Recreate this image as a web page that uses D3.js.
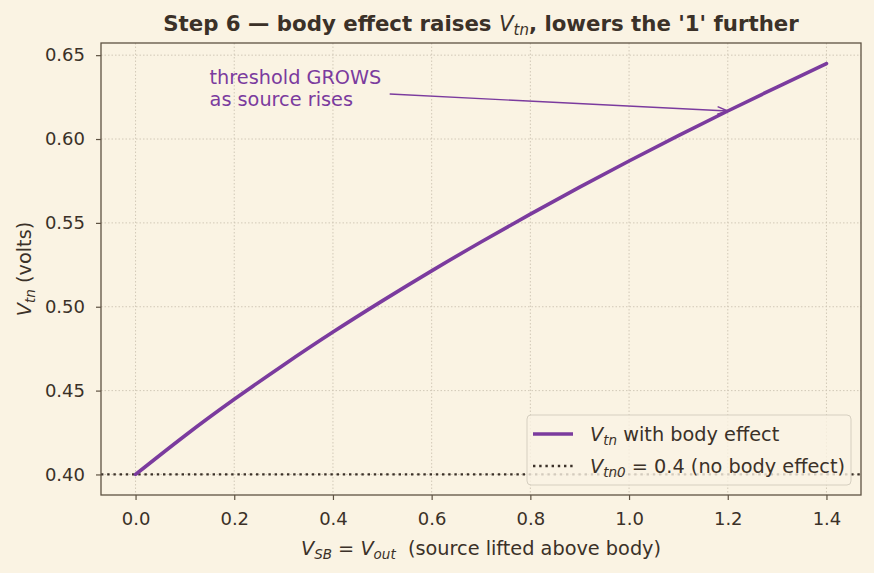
<!DOCTYPE html>
<html>
<head>
<meta charset="utf-8">
<script src="https://cdn.jsdelivr.net/npm/d3@7"></script>
<style>
  html, body { margin: 0; padding: 0; background: #faf3e3; }
  svg { display: block; font-family: "DejaVu Sans", sans-serif; }
</style>
</head>
<body>
<div id="chart"></div>
<script>
// V_SB sweep (volts) and the threshold
const vsb = [0.0, 0.1, 0.2, 0.3, 0.4, 0.5, 0.6, 0.7, 0.8, 0.9, 1.0, 1.1, 1.2, 1.3, 1.4];
const vtn = [0.4000, 0.4231, 0.4448, 0.4653, 0.4849, 0.5035, 0.5214, 0.5386, 0.5552, 0.5713, 0.5869, 0.6020, 0.6167, 0.6310, 0.6450];
const vtn0 = 0.4;
const xTicks = [0.0, 0.2, 0.4, 0.6, 0.8, 1.0, 1.2, 1.4];
const yTicks = [0.40, 0.45, 0.50, 0.55, 0.60, 0.65];
const arrowFrom = [0.515, 0.6268];
const arrowTo = [1.2, 0.6167];

const W = 874, H = 573;
const margin = { top: 43, right: 13, bottom: 78, left: 101 };
const width = W - margin.left - margin.right,
      height = H - margin.top - margin.bottom;

const ink = "#3b3128", spine = "#5e5242", purple = "#7b3b9e", grid = "#cdc4b2";
const fs = 19.3, subFs = 13.5;
const dots = "2.4,3.8";

const svg = d3.select("#chart").append("svg")
  .attr("width", W)
  .attr("height", H);

svg.append("rect").attr("width", W).attr("height", H).attr("fill", "#faf3e3");

const g = svg.append("g")
  .attr("transform", `translate(${margin.left},${margin.top})`);

const xPad = 0.07, yPad = (d3.max(vtn) - d3.min(vtn)) * 0.05;
const x = d3.scaleLinear()
  .domain([d3.min(vsb) - xPad, d3.max(vsb) + xPad])
  .range([0, width]);
const y = d3.scaleLinear()
  .domain([d3.min(vtn) - yPad, d3.max(vtn) + yPad])
  .range([height, 0]);

// grid
g.append("g")
  .selectAll("line")
  .data(xTicks)
  .enter().append("line")
  .attr("x1", d => x(d)).attr("x2", d => x(d))
  .attr("y1", 0).attr("y2", height)
  .attr("stroke", grid).attr("stroke-width", 0.9)
  .attr("stroke-dasharray", "1.5,2");
g.append("g")
  .selectAll("line")
  .data(yTicks)
  .enter().append("line")
  .attr("y1", d => y(d)).attr("y2", d => y(d))
  .attr("x1", 0).attr("x2", width)
  .attr("stroke", grid).attr("stroke-width", 0.9)
  .attr("stroke-dasharray", "1.5,2");

// reference line
g.append("line")
  .attr("x1", 0).attr("x2", width)
  .attr("y1", y(vtn0)).attr("y2", y(vtn0))
  .attr("stroke", ink).attr("stroke-width", 2.3)
  .attr("stroke-dasharray", dots);

// main curve
const line = d3.line()
  .x((d, i) => x(vsb[i]))
  .y(d => y(d))
  .curve(d3.curveNatural);

g.append("path")
  .datum(vtn)
  .attr("fill", "none")
  .attr("stroke", purple)
  .attr("stroke-width", 3.6)
  .attr("stroke-linecap", "round")
  .attr("d", line);

// annotation
const ax1 = x(arrowFrom[0]), ay1 = y(arrowFrom[1]), ax2 = x(arrowTo[0]), ay2 = y(arrowTo[1]);
g.append("line")
  .attr("x1", ax1).attr("y1", ay1).attr("x2", ax2).attr("y2", ay2)
  .attr("stroke", purple).attr("stroke-width", 1.4);
const ang = Math.atan2(ay2 - ay1, ax2 - ax1);
const hl = 11, hw = 0.35;
g.append("path")
  .attr("d", `M${ax2 - hl * Math.cos(ang - hw)},${ay2 - hl * Math.sin(ang - hw)} L${ax2},${ay2} L${ax2 - hl * Math.cos(ang + hw)},${ay2 - hl * Math.sin(ang + hw)}`)
  .attr("fill", "none").attr("stroke", purple).attr("stroke-width", 1.4);

const note = g.append("text")
  .attr("x", x(0.15)).attr("y", 41)
  .attr("fill", purple).attr("font-size", fs);
note.append("tspan").attr("x", x(0.15)).attr("dy", 0).text("threshold GROWS");
note.append("tspan").attr("x", x(0.15)).attr("dy", 22).text("as source rises");

// axes
const xAxis = g.append("g")
  .attr("transform", `translate(0,${height})`)
  .call(d3.axisBottom(x).tickValues(xTicks).tickFormat(d3.format(".1f")).tickSizeOuter(0).tickSize(5).tickPadding(12));
const yAxis = g.append("g")
  .call(d3.axisLeft(y).tickValues(yTicks).tickFormat(d3.format(".2f")).tickSizeOuter(0).tickSize(5).tickPadding(11));
[xAxis, yAxis].forEach(a => {
  a.select(".domain").remove();
  a.selectAll(".tick line").attr("stroke", spine).attr("stroke-width", 1.2);
  a.selectAll(".tick text").attr("fill", ink).attr("font-size", 18).attr("font-family", "DejaVu Sans");
});

// spines
g.append("rect")
  .attr("width", width).attr("height", height)
  .attr("fill", "none").attr("stroke", spine).attr("stroke-width", 1.3);

// legend
const lg = g.append("g").attr("transform", `translate(${width - 334},${height - 80})`);
lg.append("rect")
  .attr("width", 324).attr("height", 70).attr("rx", 4)
  .attr("fill", "#faf3e3").attr("fill-opacity", 0.8)
  .attr("stroke", "#d6cfc0").attr("stroke-width", 1);
lg.append("line").attr("x1", 6).attr("x2", 46).attr("y1", 19).attr("y2", 19)
  .attr("stroke", purple).attr("stroke-width", 3.6);
lg.append("line").attr("x1", 6).attr("x2", 46).attr("y1", 51).attr("y2", 51)
  .attr("stroke", ink).attr("stroke-width", 2.3).attr("stroke-dasharray", dots);

const t1 = lg.append("text").attr("x", 63).attr("y", 26).attr("fill", ink).attr("font-size", fs);
t1.append("tspan").attr("font-style", "italic").text("V");
t1.append("tspan").attr("font-style", "italic").attr("font-size", subFs).attr("dy", 4).text("tn");
t1.append("tspan").attr("dy", -4).text(" with body effect");

const t2 = lg.append("text").attr("x", 63).attr("y", 58).attr("fill", ink).attr("font-size", fs);
t2.append("tspan").attr("font-style", "italic").text("V");
t2.append("tspan").attr("font-style", "italic").attr("font-size", subFs).attr("dy", 4).text("tn0");
t2.append("tspan").attr("dy", -4).text(" = 0.4 (no body effect)");

// title
const title = svg.append("text")
  .attr("x", margin.left + width / 2).attr("y", 31)
  .attr("text-anchor", "middle").attr("fill", ink)
  .attr("font-size", 21.3).attr("font-weight", "bold");
title.append("tspan").text("Step 6 \u2014 body effect raises ");
title.append("tspan").attr("font-weight", "normal").attr("font-style", "italic").text("V");
title.append("tspan").attr("font-weight", "normal").attr("font-style", "italic").attr("font-size", 15).attr("dy", 4).text("tn");
title.append("tspan").attr("dy", -4).text(", lowers the '1' further");

// x label
const xl = svg.append("text")
  .attr("x", margin.left + width / 2).attr("y", 555)
  .attr("text-anchor", "middle").attr("fill", ink).attr("font-size", fs);
xl.append("tspan").attr("font-style", "italic").text("V");
xl.append("tspan").attr("font-style", "italic").attr("font-size", subFs).attr("dy", 4).text("SB");
xl.append("tspan").attr("dy", -4).text(" = ");
xl.append("tspan").attr("font-style", "italic").text("V");
xl.append("tspan").attr("font-style", "italic").attr("font-size", subFs).attr("dy", 4).text("out");
xl.append("tspan").attr("dy", -4).text("\u00a0\u00a0(source lifted above body)");

// y label
const yl = svg.append("text")
  .attr("transform", `translate(31,${margin.top + height / 2}) rotate(-90)`)
  .attr("text-anchor", "middle").attr("fill", ink).attr("font-size", fs);
yl.append("tspan").attr("font-style", "italic").text("V");
yl.append("tspan").attr("font-style", "italic").attr("font-size", subFs).attr("dy", 4).text("tn");
yl.append("tspan").attr("dy", -4).text(" (volts)");
</script>
</body>
</html>
